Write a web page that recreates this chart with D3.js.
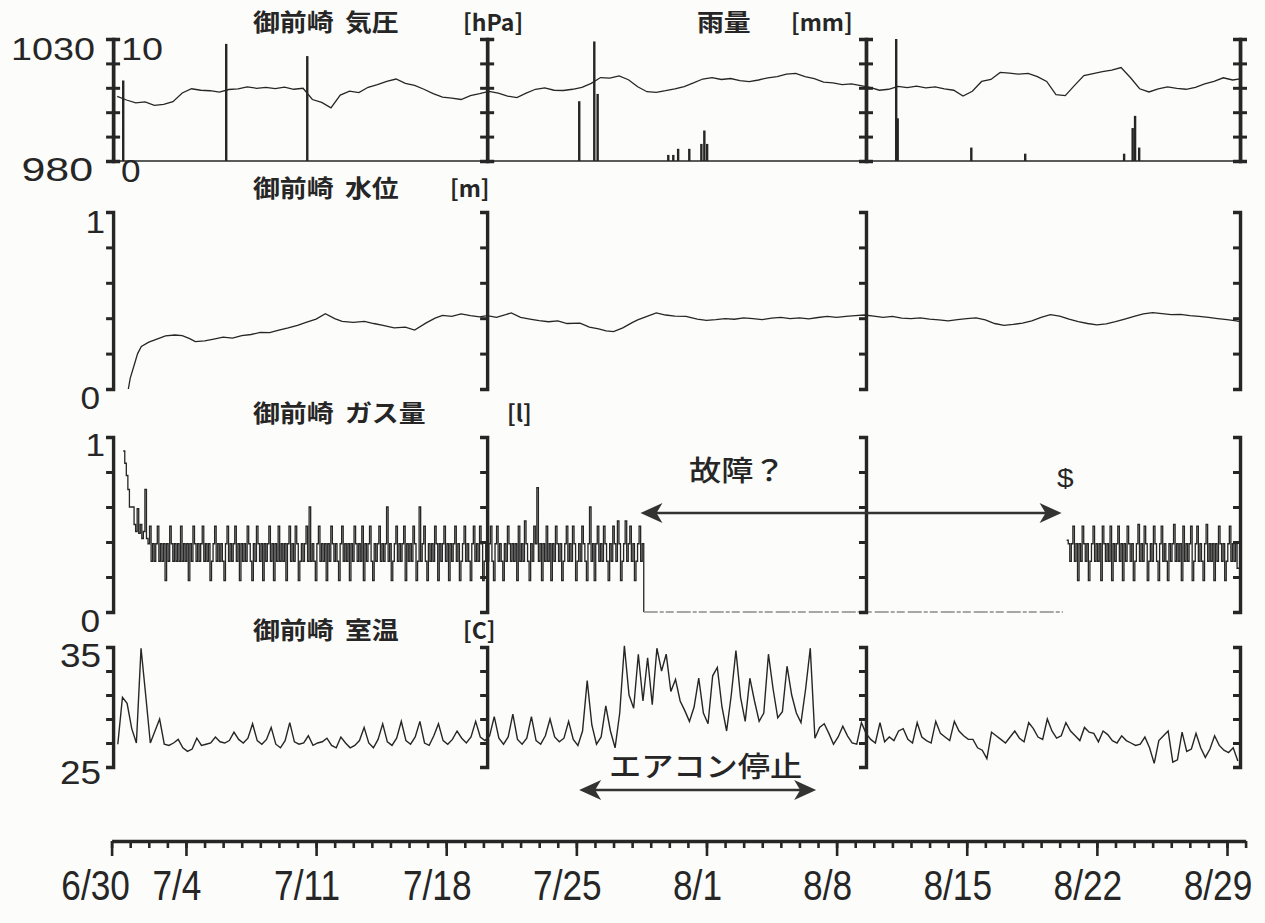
<!DOCTYPE html>
<html><head><meta charset="utf-8">
<script src="https://cdn.jsdelivr.net/npm/d3@7"></script>
<style>
html,body{margin:0;padding:0;background:#fcfcfa;}
svg{display:block;}
</style></head>
<body>
<svg id="chart" width="1265" height="923"></svg>
<script>
// ================= DATA =================
// x in days since 6/30 00:00
const dateLabels    = ["6/30","7/4","7/11","7/18","7/25","8/1","8/8","8/15","8/22","8/29"];
const dateLabelDays = [0, 4, 11, 18, 25, 32, 39, 46, 53, 60];
const panelEdgeDays = [0.08, 20.2, 40.58, 60.7];

const pressureTicks = [980, 990, 1000, 1010, 1020, 1030];
const unitTicks     = [0, 0.2, 0.4, 0.6, 0.8, 1];
const tempTicks     = [25, 27, 29, 31, 33, 35];

// pressure [hPa], every 0.5 day from day 0.3
const pressureStart = 0.3, pressureStep = 0.5;
const pressure = [
 1006.5,1005.0,1003.8,1004.2,1002.8,1003.2,1004.3,1007.9,1009.6,1009.0,
 1008.8,1008.2,1009.3,1009.6,1010.4,1009.8,1010.2,1009.7,1010.3,1009.4,
 1009.8,1005.2,1004.0,1001.8,1007.0,1008.6,1008.0,1010.2,1011.3,1012.6,
 1013.6,1011.8,1011.0,1009.4,1007.6,1006.2,1005.8,1005.2,1006.8,1007.6,
 1008.5,1007.8,1006.6,1006.0,1007.8,1009.4,1010.0,1009.0,1008.9,1009.4,
 1010.2,1011.8,1014.2,1014.0,1014.9,1013.3,1010.4,1008.4,1008.1,1008.8,
 1009.6,1010.5,1012.0,1013.6,1014.2,1013.4,1013.8,1012.9,1012.5,1013.2,
 1014.1,1014.6,1015.6,1015.9,1014.6,1013.8,1012.3,1012.0,1011.3,1011.6,
 1010.9,1010.2,1009.0,1009.4,1010.6,1010.1,1010.7,1010.0,1010.4,1009.6,
 1009.0,1006.6,1008.6,1012.6,1013.4,1016.3,1016.0,1015.6,1015.9,1014.6,
 1012.6,1007.2,1006.8,1011.0,1015.0,1015.8,1016.6,1017.2,1018.3,1014.2,
 1009.6,1008.3,1009.6,1010.4,1009.8,1009.4,1010.2,1011.6,1012.6,1014.1,
 1013.2,1013.8
];

// rain [mm]
const rainDays = [0.56, 6.10, 10.46, 25.09, 25.90, 26.08, 29.88, 30.15, 30.41, 31.01, 31.66, 31.82, 31.97, 42.14, 42.22, 46.18, 49.08, 54.40, 54.86, 54.99, 55.21];
const rainMm   = [6.6,  9.6,  8.6,   4.9,   9.8,   5.5,   0.5,   0.5,   1.0,   1.0,   1.4,   2.5,   1.4,   10.0,  3.5,   1.1,   0.6,   0.6,   2.7,   3.7,   1.1];

// water level [m] : [day, value]
const waterLevel = [
 [0.9,0.0],[1.0,0.06],[1.2,0.13],[1.4,0.2],[1.6,0.24],[2.0,0.265],[2.4,0.28],[2.9,0.3],[3.4,0.305],[3.8,0.302],
 [4.2,0.285],[4.5,0.268],[5.0,0.272],[5.5,0.282],[6.0,0.293],[6.5,0.288],[7.0,0.302],[7.5,0.308],[8.0,0.32],[8.5,0.318],
 [9.0,0.332],[9.5,0.345],[10.0,0.36],[10.5,0.378],[11.0,0.395],[11.5,0.425],[12.0,0.398],[12.4,0.382],[13.0,0.376],[13.6,0.382],
 [14.1,0.37],[14.6,0.36],[15.2,0.345],[15.8,0.35],[16.3,0.333],[16.9,0.372],[17.4,0.4],[17.8,0.416],[18.3,0.41],[18.8,0.424],
 [19.3,0.415],[19.8,0.408],[20.2,0.415],[20.7,0.405],[21.2,0.42],[21.5,0.43],[22.0,0.405],[22.5,0.395],[23.0,0.386],[23.5,0.38],
 [24.0,0.385],[24.5,0.37],[25.2,0.372],[25.7,0.35],[26.2,0.34],[26.6,0.328],[27.0,0.324],[27.5,0.345],[28.0,0.375],[28.3,0.39],
 [28.8,0.41],[29.3,0.43],[29.8,0.418],[30.3,0.412],[30.9,0.41],[31.5,0.395],[32.0,0.388],[32.5,0.392],[33.0,0.398],[33.5,0.394],
 [34.0,0.402],[34.5,0.398],[35.0,0.392],[35.5,0.40],[36.0,0.405],[36.5,0.398],[37.0,0.402],[37.5,0.396],[38.0,0.404],[38.5,0.41],
 [39.0,0.405],[39.5,0.41],[40.0,0.414],[40.5,0.418],[41.0,0.412],[41.5,0.405],[42.0,0.41],[42.5,0.40],[43.0,0.398],[43.5,0.402],
 [44.0,0.395],[44.5,0.39],[45.0,0.385],[45.5,0.392],[46.0,0.398],[46.5,0.402],[47.0,0.39],[47.5,0.37],[48.0,0.36],[48.5,0.365],
 [49.0,0.372],[49.5,0.385],[50.0,0.405],[50.5,0.42],[51.0,0.412],[51.5,0.395],[52.0,0.38],[52.5,0.37],[53.0,0.362],[53.5,0.368],
 [54.0,0.38],[54.5,0.395],[55.0,0.41],[55.5,0.425],[56.0,0.432],[56.5,0.426],[57.0,0.42],[57.5,0.422],[58.0,0.415],[58.5,0.41],
 [59.0,0.405],[59.5,0.398],[60.0,0.392],[60.5,0.385],[60.7,0.38]
];

// gas [l], every 2 hours; segment 1 from day 0.625, segment 2 from day 51.375
const gasStep = 1/12;
const gasStart1 = 0.625;
const gas1 = [
 .92,.85,.78,.70,.60,.60,.60,.50,.46,.59,.45,.50,
 .42,.46,.70,.42,.39,.49,.29,.39,.29,.39,.49,.29,
 .39,.29,.39,.18,.39,.29,.49,.39,.29,.39,.29,.39,
 .29,.49,.29,.39,.29,.39,.18,.39,.29,.49,.39,.29,
 .39,.29,.39,.49,.29,.39,.29,.39,.18,.29,.39,.49,
 .29,.39,.29,.39,.29,.18,.39,.49,.29,.39,.29,.39,
 .49,.29,.39,.18,.39,.29,.39,.29,.49,.39,.29,.18,
 .39,.29,.49,.39,.29,.39,.18,.39,.29,.39,.49,.29,
 .39,.18,.39,.29,.49,.29,.39,.29,.39,.18,.39,.49,
 .29,.39,.29,.49,.39,.18,.29,.39,.29,.39,.49,.29,
 .60,.29,.39,.29,.18,.39,.49,.29,.39,.29,.39,.18,
 .39,.29,.49,.39,.29,.39,.29,.18,.39,.49,.29,.39,
 .29,.39,.18,.39,.29,.49,.39,.29,.39,.29,.49,.18,
 .39,.29,.39,.49,.29,.18,.39,.29,.39,.49,.29,.39,
 .29,.39,.60,.29,.39,.18,.29,.39,.49,.29,.39,.29,
 .39,.49,.18,.39,.29,.39,.29,.49,.39,.18,.29,.60,
 .29,.39,.49,.29,.18,.39,.29,.39,.29,.49,.39,.18,
 .39,.29,.39,.49,.29,.39,.18,.39,.29,.39,.49,.29,
 .39,.18,.29,.39,.49,.29,.39,.29,.18,.39,.49,.29,
 .39,.29,.49,.39,.18,.29,.39,.29,.39,.49,.29,.18,
 .39,.49,.29,.39,.29,.18,.39,.29,.49,.39,.29,.39,
 .29,.39,.18,.49,.29,.39,.29,.52,.39,.29,.18,.39,
 .29,.49,.39,.71,.29,.39,.18,.39,.29,.49,.29,.39,
 .18,.39,.29,.49,.39,.29,.39,.18,.29,.39,.49,.29,
 .39,.29,.49,.39,.18,.29,.39,.29,.49,.39,.29,.18,
 .39,.60,.29,.39,.18,.39,.49,.29,.39,.29,.49,.39,
 .29,.18,.39,.29,.49,.39,.29,.52,.39,.18,.29,.39,
 .52,.29,.39,.49,.29,.39,.18,.29,.39,.49,.29,.39
];
const gasStart2 = 51.375;
const gas2 = [
 .41,.39,.29,.39,.49,.29,.39,.18,.39,.29,.49,.39,
 .29,.39,.18,.29,.39,.49,.29,.39,.29,.39,.18,.49,
 .39,.29,.39,.29,.49,.18,.39,.29,.39,.49,.29,.39,
 .18,.39,.29,.49,.39,.29,.39,.18,.29,.39,.50,.29,
 .39,.29,.49,.39,.18,.29,.39,.29,.49,.39,.29,.18,
 .39,.49,.29,.39,.29,.18,.39,.29,.39,.50,.29,.39,
 .29,.39,.18,.49,.29,.39,.29,.39,.49,.18,.29,.39,
 .49,.29,.39,.29,.18,.39,.50,.29,.39,.29,.39,.18,
 .39,.29,.49,.39,.29,.39,.18,.29,.39,.49,.29,.39,
 .29,.39,.25,.25,.25
];

// room temperature [C], every 0.25 day from day 1/3 (08h, 14h, 20h, 02h)
const tempStart = 1/3, tempStep = 0.25;
const temperature = [
 26.9,30.8,30.3,28.2,  27.0,34.9,31.0,27.0,  28.0,29.0,26.9,26.8,  27.0,27.3,26.6,26.3,  26.5,27.4,26.8,26.9,
 27.0,27.5,27.1,27.0,  27.2,27.9,27.3,27.0,  27.4,28.6,27.2,26.9,  27.3,28.3,26.9,26.6,  27.2,28.7,27.1,26.9,
 27.0,27.6,26.8,27.0,  27.1,27.4,26.8,26.6,  27.5,27.0,26.6,26.8,  27.2,28.3,27.0,26.6,  27.3,28.6,27.1,26.8,
 27.4,28.8,27.2,26.9,  27.5,28.8,27.0,26.8,  27.6,28.6,27.2,26.9,  27.3,28.0,27.4,27.0,  27.5,28.8,27.5,27.2,
 27.6,29.2,27.4,26.9,  27.5,29.4,27.3,26.9,  27.4,29.2,27.2,26.9,  27.6,29.0,27.5,27.1,  27.4,28.8,27.3,26.8,
 28.0,32.2,28.5,26.9,  27.5,30.1,28.0,26.6,  29.5,35.1,31.0,29.9,  34.4,30.5,34.1,30.2,  34.9,33.0,34.4,31.3,
 32.3,30.5,29.7,28.8,  30.0,32.4,29.5,28.6,  32.6,33.3,30.0,28.0,  31.0,34.7,30.8,28.8,  32.4,30.5,28.8,29.5,
 34.4,31.5,29.1,29.6,  33.4,31.0,29.5,28.7,  31.5,34.9,27.4,28.3,  28.6,27.8,26.9,27.5,  28.4,27.6,27.0,26.9,
 28.7,27.8,27.3,27.0,  28.7,27.1,27.5,27.2,  28.0,28.2,27.3,27.0,  28.7,27.5,27.2,27.0,  28.8,27.8,27.5,27.2,
 28.8,28.0,27.6,27.3,  27.3,26.6,26.4,25.7,  27.9,27.6,27.3,27.0,  27.5,28.0,27.4,27.1,  28.7,28.2,27.5,27.3,
 29.0,28.0,27.4,27.6,  28.7,28.0,27.6,27.2,  28.3,27.9,27.8,27.1,  28.0,27.7,27.2,27.0,  27.6,27.2,27.0,26.8,
 26.9,27.5,26.6,25.3,  27.2,27.6,28.0,25.4,  25.6,27.9,26.3,26.5,  27.8,26.6,25.8,26.5,  27.6,26.8,26.4,26.2,
 26.6,25.5
];

// annotations
const faultSpan  = [28.45, 51.1];
const acStopSpan = [25.15, 37.9];

// ================= DRAW =================
const svg = d3.select("#chart");
const ink = "#262626";
const jp = "'Noto Sans CJK JP','Noto Sans CJK SC',sans-serif";
const num = "'Liberation Sans',Arial,sans-serif";

svg.append("rect").attr("width",1265).attr("height",923).attr("fill","#fcfcfa");

const x  = d3.scaleLinear().domain([0, 61]).range([111.6, 1245.6]);
const yP = d3.scaleLinear().domain([980, 1030]).range([161, 39]);
const yR = d3.scaleLinear().domain([0, 10]).range([161, 39]);
const yW = d3.scaleLinear().domain([0, 1]).range([389, 212]);
const yG = d3.scaleLinear().domain([0, 1]).range([612, 437]);
const yT = d3.scaleLinear().domain([25, 35]).range([767, 647]);

function bracket(scale, ticks, day, both){
  const g = svg.append("g").attr("transform", `translate(${x(day)},0)`);
  g.call(d3.axisLeft(scale).tickValues(ticks).tickSize(7).tickFormat(""));
  if (both) g.append("g").call(d3.axisRight(scale).tickValues(ticks).tickSize(7).tickFormat(""));
  g.selectAll("path.domain").attr("stroke", ink).attr("stroke-width", 3.4).attr("fill","none");
  g.selectAll(".tick line").attr("stroke", ink).attr("stroke-width", 3);
}

// ---- panel 1: pressure + rain ----
svg.append("line").attr("x1", x(panelEdgeDays[0])).attr("x2", x(61)).attr("y1", yR(0)).attr("y2", yR(0))
  .attr("stroke", ink).attr("stroke-width", 1.6);
svg.append("g").selectAll("rect").data(rainDays.map((d,i)=>({d, v: Math.min(rainMm[i], 10)})))
  .join("rect")
  .attr("x", r => x(r.d)).attr("width", r => x(r.d + 0.13) - x(r.d))
  .attr("y", r => yR(r.v)).attr("height", r => yR(0) - yR(r.v))
  .attr("fill", ink);
svg.append("path")
  .attr("d", d3.line().x((v,i)=>x(pressureStart + i*pressureStep)).y(v=>yP(v))(pressure))
  .attr("fill","none").attr("stroke", ink).attr("stroke-width", 1.3);
panelEdgeDays.forEach(d => bracket(yP, pressureTicks, d, true));

// ---- panel 2: water ----
svg.append("path")
  .attr("d", d3.line().x(p=>x(p[0])).y(p=>yW(p[1]))(waterLevel))
  .attr("fill","none").attr("stroke", ink).attr("stroke-width", 1.3);
panelEdgeDays.forEach(d => bracket(yW, unitTicks, d, false));

// ---- panel 3: gas ----
const stepLine = d3.line().curve(d3.curveStepAfter).x(p=>x(p[0])).y(p=>yG(p[1]));
const g1 = gas1.map((v,i)=>[gasStart1 + i*gasStep, v]);
const gasStop = gasStart1 + gas1.length*gasStep;
g1.push([gasStop, 0]);
svg.append("path").attr("d", stepLine(g1)).attr("fill","none").attr("stroke", ink).attr("stroke-width", 1.3);
svg.append("path").attr("d", d3.line().x(p=>x(p[0])).y(p=>yG(p[1]))([[gasStop,0],[gasStart2 - 0.2,0]]))
  .attr("stroke","#8a8a8a").attr("stroke-width",1.6).attr("stroke-dasharray","14,2,4,2,8,3").attr("fill","none");
const g2 = gas2.map((v,i)=>[gasStart2 + i*gasStep, v]);
g2.push([gasStart2 + gas2.length*gasStep, gas2[gas2.length-1]]);
svg.append("path").attr("d", stepLine(g2)).attr("fill","none").attr("stroke", ink).attr("stroke-width", 1.3);
panelEdgeDays.forEach(d => bracket(yG, unitTicks, d, false));

// ---- panel 4: temperature ----
svg.append("path")
  .attr("d", d3.line().x((v,i)=>x(tempStart + i*tempStep)).y(v=>yT(v))(temperature))
  .attr("fill","none").attr("stroke", ink).attr("stroke-width", 1.4);
panelEdgeDays.forEach(d => bracket(yT, tempTicks, d, false));

// ---- x axis ----
const ax = svg.append("g").attr("transform","translate(0,841)");
ax.call(d3.axisBottom(x).tickValues(d3.range(0, 62)).tickSize(7).tickSizeOuter(0).tickFormat(""));
ax.append("g").call(d3.axisBottom(x).tickValues(dateLabelDays).tickSize(15).tickSizeOuter(0).tickFormat(""))
  .select("path.domain").remove();
ax.selectAll("path.domain").attr("stroke", ink).attr("stroke-width", 3.4);
ax.selectAll(".tick line").attr("stroke", ink).attr("stroke-width", 2.6);
dateLabels.forEach((t,i)=>{
  svg.append("text").text(t)
    .attr("transform", `translate(${x(dateLabelDays[i]) - (i===0?16:9)},900) scale(0.84,1)`)
    .attr("text-anchor","middle").attr("font-family", num).attr("font-size", 42).attr("fill", ink);
});

// ---- axis value labels (slightly wide, as in the scan) ----
function label(t, xx, yy, anchor, size, sx){
  svg.append("text").text(t).attr("transform", `translate(${xx},${yy}) scale(${sx||1.15},1)`)
    .attr("text-anchor", anchor).attr("font-family", num).attr("font-size", size).attr("fill", ink);
}
label("1030", 95, 60, "end", 32, 1.18);
label("980", 93, 181, "end", 33, 1.3);
label("10", 121, 60, "start", 32, 1.18);
label("0", 121, 182, "start", 32, 1.1);
label("1", 105, 233, "end", 32, 1.1);
label("0", 100, 409, "end", 32, 1.1);
label("1", 105, 456, "end", 32, 1.1);
label("0", 100, 632, "end", 32, 1.1);
label("35", 101, 667, "end", 33, 1.12);
label("25", 101, 784, "end", 33, 1.12);

// ---- titles ----
function jtext(t, xx, yy, size, weight, sx){
  svg.append("text").text(t).attr("transform", `translate(${xx},${yy}) scale(${sx||1.12},1)`)
    .attr("font-family", jp).attr("font-size", size).attr("font-weight", weight||700).attr("fill", ink);
}
jtext("御前崎", 253, 31, 24); jtext("気圧", 345, 31, 24); jtext("[hPa]", 463, 31, 23, 700, 1.0);
jtext("雨量", 697, 31, 24); jtext("[mm]", 791, 31, 23, 700, 1.0);
jtext("御前崎", 253, 197, 24); jtext("水位", 345, 197, 24); jtext("[m]", 450, 197, 23, 700, 1.0);
jtext("御前崎", 253, 422, 24); jtext("ガス量", 345, 422, 24); jtext("[l]", 507, 422, 23, 700, 1.0);
jtext("御前崎", 253, 639, 24); jtext("室温", 345, 639, 24); jtext("[C]", 463, 639, 23, 700, 1.0);

// ---- annotations ----
function dblArrow(d0, d1, yy){
  const x0 = x(d0), x1 = x(d1);
  svg.append("line").attr("x1", x0+10).attr("x2", x1-10).attr("y1", yy).attr("y2", yy)
    .attr("stroke", "#333").attr("stroke-width", 2.6);
  const head = (xt, dir) => `M${xt},${yy} L${xt+dir*22},${yy-10} L${xt+dir*16},${yy} L${xt+dir*22},${yy+10} Z`;
  svg.append("path").attr("d", head(x0, 1)).attr("fill", "#333");
  svg.append("path").attr("d", head(x1, -1)).attr("fill", "#333");
}
dblArrow(faultSpan[0], faultSpan[1], 513);
dblArrow(acStopSpan[0], acStopSpan[1], 790);
jtext("故障？", 689, 481, 28, 500, 1.15);
svg.append("text").text("$").attr("transform","translate(1057,487) scale(1.15,1)").attr("font-family", num).attr("font-size", 26).attr("fill", ink);
jtext("エアコン停止", 609, 777, 28, 500, 1.15);
</script>
</body></html>
